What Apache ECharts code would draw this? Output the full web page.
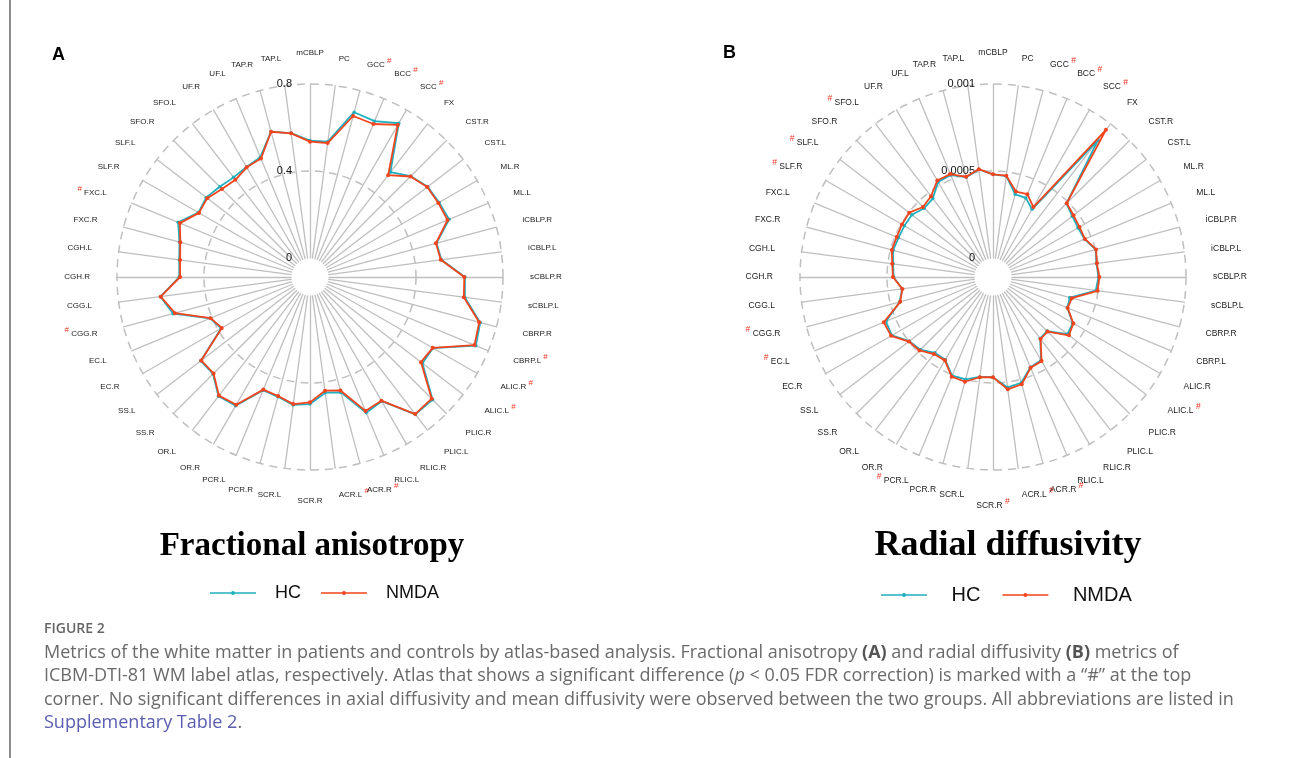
<!DOCTYPE html>
<html>
<head>
<meta charset="utf-8">
<script src="https://cdn.jsdelivr.net/npm/echarts@6.0.0/dist/echarts.min.js"></script>
<style>
html,body{margin:0;padding:0;background:#fff;}
#chart{width:1292px;height:758px;}
</style>
</head>
<body>
<div id="chart"></div>
<script>
// Categories, clockwise from the top
const categories = ['mCBLP','PC','GCC','BCC','SCC','FX','CST.R','CST.L','ML.R','ML.L','iCBLP.R','iCBLP.L',
  'sCBLP.R','sCBLP.L','CBRP.R','CBRP.L','ALIC.R','ALIC.L','PLIC.R','PLIC.L','RLIC.R','RLIC.L','ACR.R','ACR.L',
  'SCR.R','SCR.L','PCR.R','PCR.L','OR.R','OR.L','SS.R','SS.L','EC.R','EC.L','CGG.R','CGG.L','CGH.R','CGH.L',
  'FXC.R','FXC.L','SLF.R','SLF.L','SFO.R','SFO.L','UF.R','UF.L','TAP.R','TAP.L'];

// Significant tracts (marked with #)
const sigFA = ['GCC','BCC','SCC','CBRP.L','ALIC.R','ALIC.L','ACR.R','ACR.L','CGG.R','FXC.L'];
const sigRD = ['GCC','BCC','SCC','ALIC.L','ACR.R','ACR.L','SCR.R','PCR.L','EC.L','CGG.R','SLF.R','SLF.L','SFO.L'];

// Fractional anisotropy
const faHC = [0.540,0.540,0.697,0.688,0.729,0.520,0.568,0.595,0.598,0.605,0.515,0.522,
  0.625,0.631,0.723,0.738,0.566,0.564,0.710,0.709,0.572,0.588,0.462,0.449,
  0.497,0.506,0.483,0.476,0.596,0.604,0.543,0.546,0.384,0.409,0.564,0.606,0.514,0.519,
  0.534,0.569,0.505,0.514,0.499,0.490,0.497,0.509,0.605,0.580];
const faNMDA = [0.535,0.534,0.679,0.674,0.720,0.503,0.566,0.592,0.594,0.597,0.512,0.519,
  0.622,0.626,0.718,0.731,0.564,0.556,0.704,0.707,0.569,0.579,0.453,0.440,
  0.489,0.502,0.479,0.473,0.591,0.600,0.540,0.543,0.381,0.407,0.555,0.605,0.510,0.515,
  0.530,0.560,0.502,0.508,0.485,0.476,0.495,0.502,0.604,0.579];

// Radial diffusivity
const rdHC = [0.000481,0.000476,0.000383,0.000383,0.000340,0.000882,0.000488,0.000465,0.000455,0.000460,0.000502,0.000490,
  0.000497,0.000487,0.000348,0.000353,0.000420,0.000430,0.000330,0.000336,0.000443,0.000452,0.000520,0.000531,
  0.000467,0.000470,0.000500,0.000505,0.000440,0.000440,0.000481,0.000497,0.000562,0.000557,0.000446,0.000418,0.000462,0.000470,
  0.000485,0.000479,0.000479,0.000478,0.000450,0.000459,0.000522,0.000525,0.000485,0.000514];
const rdNMDA = [0.000481,0.000478,0.000399,0.000406,0.000355,0.000957,0.000490,0.000474,0.000465,0.000463,0.000504,0.000493,
  0.000502,0.000497,0.000360,0.000355,0.000424,0.000441,0.000334,0.000340,0.000449,0.000456,0.000529,0.000542,
  0.000467,0.000472,0.000514,0.000511,0.000444,0.000449,0.000488,0.000500,0.000567,0.000570,0.000443,0.000416,0.000466,0.000475,
  0.000493,0.000490,0.000495,0.000498,0.000460,0.000476,0.000531,0.000531,0.000487,0.000516];

const faMax = 0.8, rdMax = 0.001;
const groupNames = ['HC','NMDA'];
const panelTitles = ['Fractional anisotropy','Radial diffusivity'];

const TEAL = '#1fb0c0', RED = '#f2441d', GRID = '#bfbfbf';

// ECharts radar runs counter-clockwise; reorder to get clockwise layout
function ccw(arr){ return [arr[0]].concat(arr.slice(1).reverse()); }

function makeRadar(center, max, nameSize, sig){
  const ordered = ccw(categories);
  return {
    center: center,
    radius: [19, 193],
    startAngle: 90,
    shape: 'circle',
    splitNumber: 2,
    indicator: ordered.map((n, k) => {
      const o = {name: n, min: 0, max: max};
      if (k === 0) o.axisLabel = {show: true};
      return o;
    }),
    nameGap: 27,
    axisName: {
      color: '#1a1a1a',
      fontSize: nameSize,
      fontFamily: 'Liberation Sans',
      formatter: function(name){
        if (sig.indexOf(name) < 0) return '{n|' + name + '}';
        const idx = categories.indexOf(name);
        return idx <= 24 ? '{n|' + name + '}{h| #}' : '{h|# }{n|' + name + '}';
      },
      rich: {
        n: {fontSize: nameSize, fontFamily: 'Liberation Sans', color: '#1a1a1a'},
        h: {fontSize: nameSize, fontFamily: 'Liberation Sans', color: '#ee3322', padding: [0,0,8,0]}
      }
    },
    axisLine: {show: true, lineStyle: {color: GRID, width: 1.3}},
    axisTick: {show: false},
    axisLabel: {show: false, margin: 18, color: '#111', fontSize: 11, fontFamily: 'Liberation Sans'},
    splitLine: {show: true, lineStyle: {color: ['rgba(0,0,0,0)', GRID, GRID], type: [8, 6], width: 1.5}},
    splitArea: {show: false}
  };
}

function makeSeries(radarIndex, name, values, color, size, z){
  return {
    type: 'radar', radarIndex: radarIndex, name: name, z: z,
    symbol: 'circle', symbolSize: size,
    itemStyle: {color: color},
    lineStyle: {color: color, width: 1.8},
    data: [{value: ccw(values), name: name}]
  };
}

const legendIcon = 'path://M0,18 L460,18 L460,32 L0,32 Z M210,25 A20,20 0 1,1 250,25 A20,20 0 1,1 210,25 Z';

function makeLegend(left, top, w, fontSize, pad, gap){
  return {
    left: left, top: top, orient: 'horizontal',
    data: groupNames.map(n => ({name: n, icon: legendIcon})),
    itemWidth: w, itemHeight: 4, itemGap: gap,
    textStyle: {fontSize: fontSize, fontFamily: 'Liberation Sans', color: '#111', padding: [0,0,0,pad]},
    selectedMode: false
  };
}

const capFont = {fontSize: 18, fontFamily: 'Open Sans'};
function capLine(y, text){
  return {
    type: 'text', x: 44, y: y,
    style: {
      text: text, fill: '#6a6a6a', fontSize: capFont.fontSize, fontFamily: capFont.fontFamily,
      align: 'left', verticalAlign: 'middle', textAlign: 'left', textVerticalAlign: 'middle',
      rich: {
        b: {fontSize: capFont.fontSize, fontFamily: capFont.fontFamily, fontWeight: 'bold', fill: '#555', color: '#555'},
        i: {fontSize: capFont.fontSize, fontFamily: capFont.fontFamily, fontStyle: 'italic', fill: '#6a6a6a', color: '#6a6a6a'},
        l: {fontSize: capFont.fontSize, fontFamily: capFont.fontFamily, fill: '#5a5db0', color: '#5a5db0'}
      }
    }
  };
}

const chart = echarts.init(document.getElementById('chart'));
chart.setOption({
  backgroundColor: '#fff',
  animation: false,
  radar: [
    makeRadar([310, 277], faMax, 8, sigFA),
    makeRadar([993, 277], rdMax, 8.5, sigRD)
  ],
  legend: [
    makeLegend(205, 579, 46, 18, 14, 20),
    makeLegend(876, 580, 51, 20, 17, 22)
  ],
  series: [
    makeSeries(0, groupNames[0], faHC, TEAL, 3.5, 2),
    makeSeries(0, groupNames[1], faNMDA, RED, 4, 3),
    makeSeries(1, groupNames[0], rdHC, TEAL, 3.5, 2),
    makeSeries(1, groupNames[1], rdNMDA, RED, 4, 3)
  ],
  graphic: [
    {type: 'line', shape: {x1: 10, y1: 0, x2: 10, y2: 758}, style: {stroke: '#8c8c8c', lineWidth: 2}},
    {type: 'text', x: 52, y: 55, style: {text: 'A', fontSize: 18, fontWeight: 'bold', fontFamily: 'Liberation Sans', fill: '#000', align: 'left', verticalAlign: 'middle', textAlign: 'left', textVerticalAlign: 'middle'}},
    {type: 'text', x: 723, y: 53, style: {text: 'B', fontSize: 18, fontWeight: 'bold', fontFamily: 'Liberation Sans', fill: '#000', align: 'left', verticalAlign: 'middle', textAlign: 'left', textVerticalAlign: 'middle'}},
    {type: 'text', x: 312, y: 546, style: {text: panelTitles[0], fontSize: 33, fontWeight: 'bold', fontFamily: 'Liberation Serif', fill: '#000', align: 'center', verticalAlign: 'middle', textAlign: 'center', textVerticalAlign: 'middle'}},
    {type: 'text', x: 1008, y: 546, style: {text: panelTitles[1], fontSize: 36, fontWeight: 'bold', fontFamily: 'Liberation Serif', fill: '#000', align: 'center', verticalAlign: 'middle', textAlign: 'center', textVerticalAlign: 'middle'}},
    {type: 'text', x: 44, y: 629, style: {text: 'FIGURE 2', fontSize: 14, fontWeight: 600, fontFamily: 'Open Sans', fill: '#666', align: 'left', verticalAlign: 'middle', textAlign: 'left', textVerticalAlign: 'middle'}},
    capLine(653, 'Metrics of the white matter in patients and controls by atlas-based analysis. Fractional anisotropy {b|(A)} and radial diffusivity {b|(B)} metrics of'),
    capLine(676, 'ICBM-DTI-81 WM label atlas, respectively. Atlas that shows a significant difference ({i|p} < 0.05 FDR correction) is marked with a \u201c#\u201d at the top'),
    capLine(700, 'corner. No significant differences in axial diffusivity and mean diffusivity were observed between the two groups. All abbreviations are listed in'),
    capLine(723, '{l|Supplementary Table 2}.')
  ]
});
</script>
</body>
</html>
